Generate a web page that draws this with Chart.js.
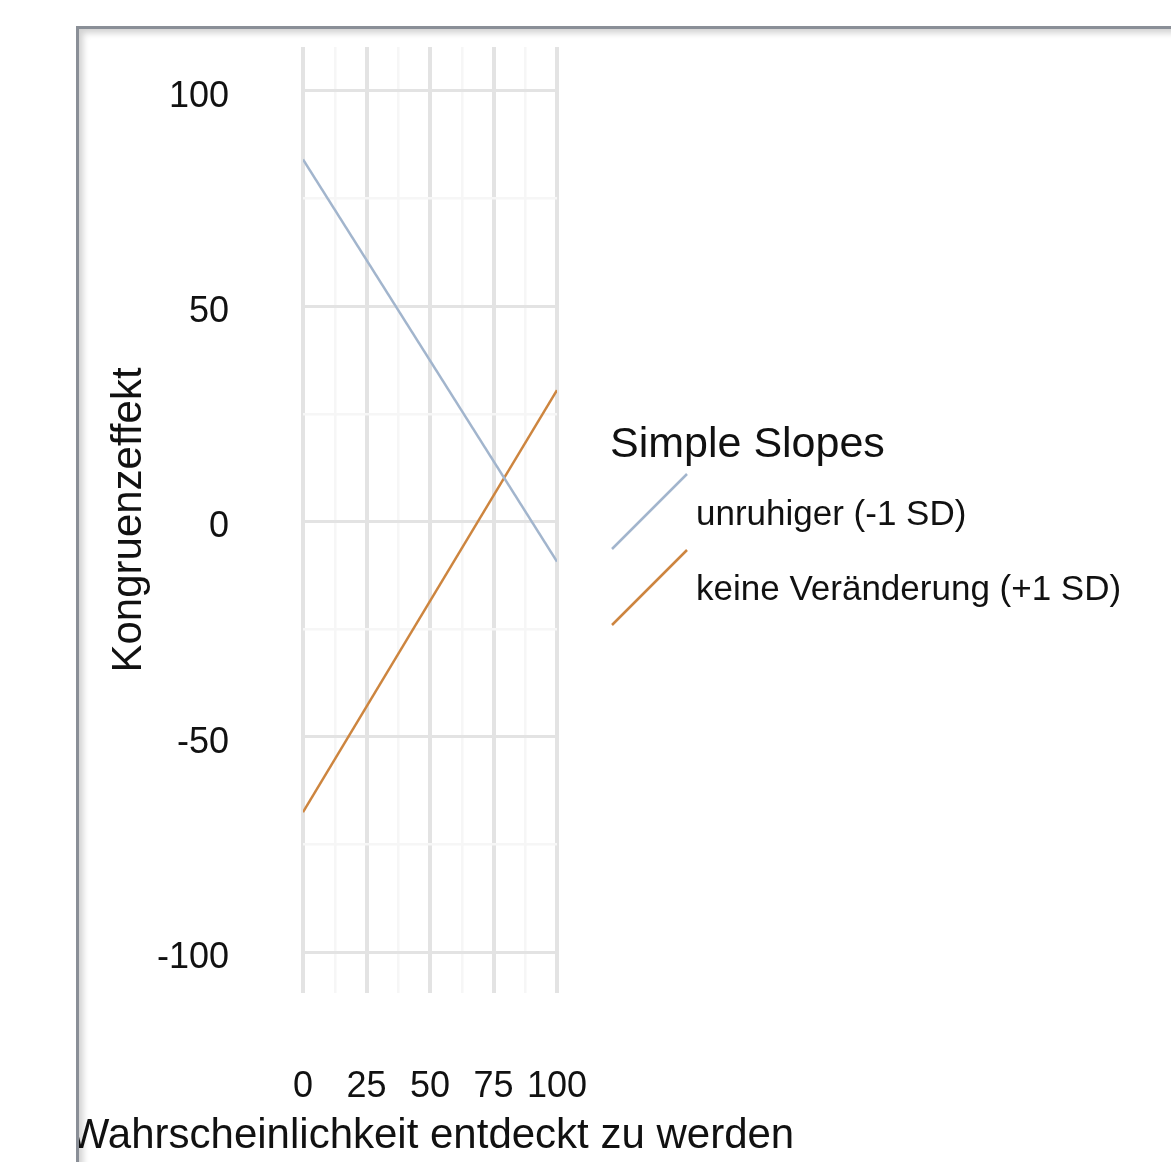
<!DOCTYPE html>
<html>
<head>
<meta charset="utf-8">
<script src="https://cdn.jsdelivr.net/npm/chart.js@4.4.1/dist/chart.umd.min.js"></script>
<style>
html, body { margin: 0; padding: 0; background: #fff; overflow: hidden; }
#wrap { position: relative; width: 1171px; height: 1162px; }
#chart { position: absolute; left: 0; top: 0; }
.mask { position: absolute; background: #fff; }
#frame {
    position: absolute; left: 76px; top: 26px; width: 1200px; height: 1200px;
    border-left: 3px solid #8a8f97; border-top: 3px solid #8a8f97;
    box-shadow: inset 6px 6px 6px -2px rgba(0, 0, 0, 0.18);
}
</style>
</head>
<body>
<div id="wrap">
    <canvas id="chart" width="1171" height="1162"></canvas>
    <div class="mask" style="left:0;top:0;width:76px;height:1162px"></div>
    <div class="mask" style="left:0;top:0;width:1171px;height:26px"></div>
    <div id="frame"></div>
</div>
<script>
// values
const xValues = [0, 100];
const unruhiger = [84.1, -9.3];
const keineVeraenderung = [-67.5, 30.5];
const seriesLabels = ['unruhiger (-1 SD)', 'keine Veränderung (+1 SD)'];
const xTicks = [0, 25, 50, 75, 100];
const yTicks = [-100, -50, 0, 50, 100];
const legendTitle = 'Simple Slopes';
const xTitle = 'Wahrscheinlichkeit entdeckt zu werden';
const yTitle = 'Kongruenzeffekt';

const FONT = '"Liberation Sans", Arial, sans-serif';
Chart.defaults.font.family = FONT;
Chart.defaults.color = '#111';

// major ticks plus the minor ones halfway between them
function withMinor(major) {
    const out = [];
    major.forEach((v, i) => {
        out.push(v);
        if (i < major.length - 1) out.push((v + major[i + 1]) / 2);
    });
    return out;
}

const toPoints = ys => xValues.map((x, i) => ({ x: x, y: ys[i] }));

// legend + x title drawn by hand (chart.js squeezes a long axis title into the plot width)
const simpleSlopesLegend = {
    id: 'simpleSlopesLegend',
    afterDraw(chart) {
        const ctx = chart.ctx;
        const area = chart.chartArea;
        ctx.save();
        ctx.fillStyle = '#111';
        ctx.textBaseline = 'alphabetic';
        ctx.textAlign = 'center';
        ctx.font = '42px ' + FONT;
        ctx.fillText(xTitle, (area.left + area.right) / 2 + 2, 1148);

        ctx.textAlign = 'left';
        ctx.font = '43px ' + FONT;
        ctx.fillText(legendTitle, 610, 457);
        chart.data.datasets.forEach((ds, i) => {
            const top = 474 + 76 * i;
            ctx.strokeStyle = ds.borderColor;
            ctx.lineWidth = 2.5;
            ctx.beginPath();
            ctx.moveTo(612, top + 75);
            ctx.lineTo(687, top);
            ctx.stroke();
            ctx.font = '35px ' + FONT;
            ctx.fillText(ds.label, 696, 525 + 75 * i);
        });
        ctx.restore();
    }
};

const noPad = s => { s.paddingTop = 0; s.paddingBottom = 0; s.paddingLeft = 0; s.paddingRight = 0; };

const ctx = document.getElementById('chart').getContext('2d');
const chart = new Chart(ctx, {
    type: 'line',
    data: {
        datasets: [
            { label: seriesLabels[0], data: toPoints(unruhiger), borderColor: '#a2b5cd', borderWidth: 2.5, pointRadius: 0, fill: false, tension: 0 },
            { label: seriesLabels[1], data: toPoints(keineVeraenderung), borderColor: '#cd853f', borderWidth: 2.5, pointRadius: 0, fill: false, tension: 0 }
        ]
    },
    options: {
        responsive: false,
        animation: false,
        devicePixelRatio: 1,
        layout: { padding: { left: 100, top: 47, right: 614, bottom: 0 } },
        plugins: { legend: { display: false }, tooltip: { enabled: false } },
        scales: {
            x: {
                type: 'linear', min: 0, max: 100,
                afterBuildTicks: s => { s.ticks = withMinor(xTicks).map(v => ({ value: v })); },
                afterFit: s => { s.height = 169; noPad(s); },
                border: { display: false },
                grid: {
                    drawTicks: false,
                    color: c => xTicks.includes(c.tick.value) ? '#e3e3e3' : '#f6f6f6',
                    lineWidth: c => xTicks.includes(c.tick.value) ? 4 : 2.5
                },
                ticks: {
                    autoSkip: false, maxRotation: 0, padding: 72,
                    font: { size: 36 },
                    callback: v => xTicks.includes(v) ? String(v) : ''
                }
            },
            y: {
                type: 'linear', min: -109.5, max: 110.2,
                afterBuildTicks: s => { s.ticks = withMinor(yTicks).map(v => ({ value: v })); },
                afterFit: s => { s.width = 203; noPad(s); },
                border: { display: false },
                grid: {
                    drawTicks: false,
                    color: c => yTicks.includes(c.tick.value) ? '#e3e3e3' : '#f6f6f6',
                    lineWidth: c => yTicks.includes(c.tick.value) ? 3 : 2.5
                },
                ticks: {
                    autoSkip: false, padding: 74, labelOffset: 6,
                    font: { size: 36 },
                    callback: v => yTicks.includes(v) ? String(v) : ''
                },
                title: { display: true, text: yTitle, font: { size: 42 }, color: '#111', padding: { top: 4, bottom: 0 } }
            }
        }
    },
    plugins: [simpleSlopesLegend]
});
</script>
</body>
</html>
